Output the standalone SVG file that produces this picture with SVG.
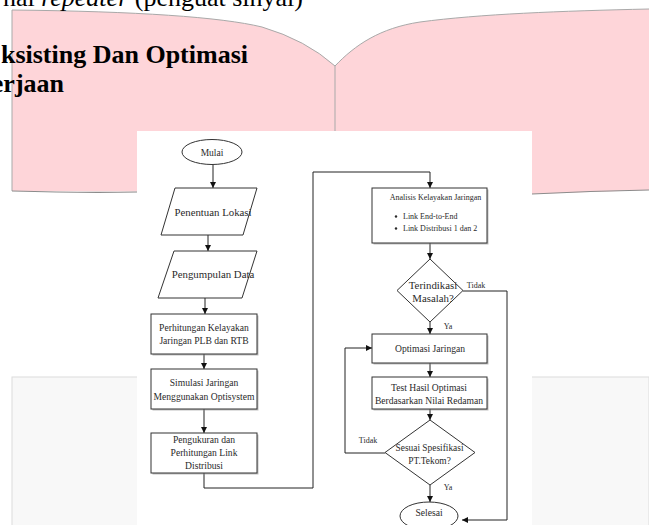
<svg xmlns="http://www.w3.org/2000/svg" width="649" height="525" viewBox="0 0 649 525">
<defs>
<style>
.doc{font-family:"Liberation Serif","Times New Roman",serif;fill:#000}
.t{font-family:"Liberation Serif","Times New Roman",serif;fill:#2a2a2a;text-anchor:middle}
.box{fill:#fff;stroke:#333;stroke-width:1}
.sh{fill:#8a8a8a;opacity:0.55}
.ln{fill:none;stroke:#222;stroke-width:1}
.edge{fill:none;stroke:#a9a9a9;stroke-width:1}
</style>
<marker id="ah" viewBox="0 0 10 10" refX="10" refY="5" markerWidth="6" markerHeight="6" orient="auto" markerUnits="userSpaceOnUse">
<path d="M0,0 L10,5 L0,10 z" fill="#111"/>
</marker>
</defs>

<rect width="649" height="525" fill="#fff"/>

<g id="background">
<!-- lower page -->
<rect x="12" y="377" width="637" height="150" fill="#f8f8f8" stroke="#dcdcdc" stroke-width="1"/>
<!-- pink open book pages -->
<path d="M12,10 Q200,12 262,27 Q306,40 335,66 L335,192 L12,191 Z" fill="#fed5d9"/>
<path d="M335,66 C355,45 380,28 420,22 C480,14 560,11 649,9 L649,190 L532,194 L335,192 Z" fill="#fed5d9"/>
<path class="edge" d="M12,191 L12,10 Q200,12 262,27 Q306,40 335,66 C355,45 380,28 420,22 C480,14 560,11 649,9"/>
<path class="edge" d="M335,66 L335,192"/>
<path d="M12,191 Q80,193 137,192 M532,194 Q590,191 649,190" fill="none" stroke="#8c8c8c" stroke-width="1.2"/>
<text class="doc" x="303" y="6" font-size="26" text-anchor="end">nal <tspan font-style="italic">repeater</tspan> (penguat sinyal)</text>
<text class="doc" x="248" y="63" font-size="26" font-weight="bold" text-anchor="end">ksisting Dan Optimasi</text>
<text class="doc" x="64" y="92" font-size="26" font-weight="bold" text-anchor="end">erjaan</text>
<!-- flowchart sheet -->
<rect x="137" y="131" width="395" height="394" fill="#fff"/>
</g>

<g id="connectors">
<path class="ln" d="M213,165 V188" marker-end="url(#ah)"/>
<path class="ln" d="M208,235 V251" marker-end="url(#ah)"/>
<path class="ln" d="M205,298 V314" marker-end="url(#ah)"/>
<path class="ln" d="M204,354 V369" marker-end="url(#ah)"/>
<path class="ln" d="M204,409 V433" marker-end="url(#ah)"/>
<path class="ln" d="M204,473 V488 H313 V172 H430 V188" marker-end="url(#ah)"/>
<path class="ln" d="M430,243 V259" marker-end="url(#ah)"/>
<path class="ln" d="M463,291 H507 V520 H462" marker-end="url(#ah)"/>
<path class="ln" d="M430,322 V334" marker-end="url(#ah)"/>
<path class="ln" d="M430,363 V377" marker-end="url(#ah)"/>
<path class="ln" d="M430,409 V420" marker-end="url(#ah)"/>
<path class="ln" d="M385,453 H345 V348 H372" marker-end="url(#ah)"/>
<path class="ln" d="M430,485 V502" marker-end="url(#ah)"/>
<text class="t" x="476" y="288" font-size="8">Tidak</text>
<text class="t" x="448" y="329" font-size="8">Ya</text>
<text class="t" x="368" y="443" font-size="8">Tidak</text>
<text class="t" x="448" y="490" font-size="8">Ya</text>
</g>

<g id="mulai">
<ellipse class="box" cx="212" cy="152" rx="30" ry="12.5"/>
<text class="t" x="212" y="155.5" font-size="9.5">Mulai</text>
</g>

<g id="penentuan-lokasi">
<polygon class="box" points="175,188 257,188 243,235 161,235"/>
<text class="t" x="213" y="215.5" font-size="10.8">Penentuan Lokasi</text>
</g>

<g id="pengumpulan-data">
<polygon class="box" points="174,251 257,251 242,298 158,298"/>
<text class="t" x="213" y="278" font-size="10.8">Pengumpulan Data</text>
</g>

<g id="perhitungan-kelayakan">
<rect class="sh" x="152.5" y="315.5" width="106" height="40"/>
<rect class="box" x="151" y="314" width="106" height="40"/>
<text class="t" x="204" y="331" font-size="9.6">Perhitungan Kelayakan</text>
<text class="t" x="204" y="344" font-size="9.6">Jaringan PLB dan RTB</text>
</g>

<g id="simulasi-jaringan">
<rect class="sh" x="152.5" y="370.5" width="106" height="40"/>
<rect class="box" x="151" y="369" width="106" height="40"/>
<text class="t" x="204" y="386" font-size="9.6">Simulasi Jaringan</text>
<text class="t" x="204" y="400" font-size="9.6">Menggunakan Optisystem</text>
</g>

<g id="pengukuran">
<rect class="sh" x="152.5" y="434.5" width="106" height="40"/>
<rect class="box" x="151" y="433" width="106" height="40"/>
<text class="t" x="204" y="443" font-size="9.6">Pengukuran dan</text>
<text class="t" x="204" y="456" font-size="9.6">Perhitungan Link</text>
<text class="t" x="204" y="469" font-size="9.6">Distribusi</text>
</g>

<g id="analisis">
<rect class="sh" x="373.5" y="189.5" width="115" height="55"/>
<rect class="box" x="372" y="188" width="115" height="55"/>
<text class="t" x="435.5" y="200" font-size="8">Analisis Kelayakan Jaringan</text>
<circle cx="396" cy="216.5" r="1.2" fill="#2a2a2a"/>
<circle cx="396" cy="228.5" r="1.2" fill="#2a2a2a"/>
<text class="t" x="403" y="219" font-size="8" text-anchor="start" style="text-anchor:start">Link End-to-End</text>
<text class="t" x="403" y="231" font-size="8" text-anchor="start" style="text-anchor:start">Link Distribusi 1 dan 2</text>
</g>

<g id="terindikasi">
<polygon class="box" points="430,259 463,290.5 430,322 397,290.5"/>
<text class="t" x="433" y="289" font-size="10.8">Terindikasi</text>
<text class="t" x="433" y="302" font-size="10.8">Masalah?</text>
</g>

<g id="optimasi">
<rect class="sh" x="373.5" y="335.5" width="115" height="29"/>
<rect class="box" x="372" y="334" width="115" height="29"/>
<text class="t" x="430" y="351.5" font-size="9.6">Optimasi Jaringan</text>
</g>

<g id="test-hasil">
<rect class="sh" x="373.5" y="378.5" width="115" height="32"/>
<rect class="box" x="372" y="377" width="115" height="32"/>
<text class="t" x="429" y="391" font-size="9.6">Test Hasil Optimasi</text>
<text class="t" x="429" y="403.5" font-size="9.6">Berdasarkan Nilai Redaman</text>
</g>

<g id="sesuai">
<polygon class="box" points="430,420 475,452.5 430,485 385,452.5"/>
<text class="t" x="429.5" y="451" font-size="9.4">Sesuai Spesifikasi</text>
<text class="t" x="429.5" y="464" font-size="9.4">PT.Tekom?</text>
</g>

<g id="selesai">
<ellipse class="box" cx="429" cy="516" rx="29" ry="14"/>
<text class="t" x="429" y="516" font-size="9.6">Selesai</text>
</g>
</svg>
